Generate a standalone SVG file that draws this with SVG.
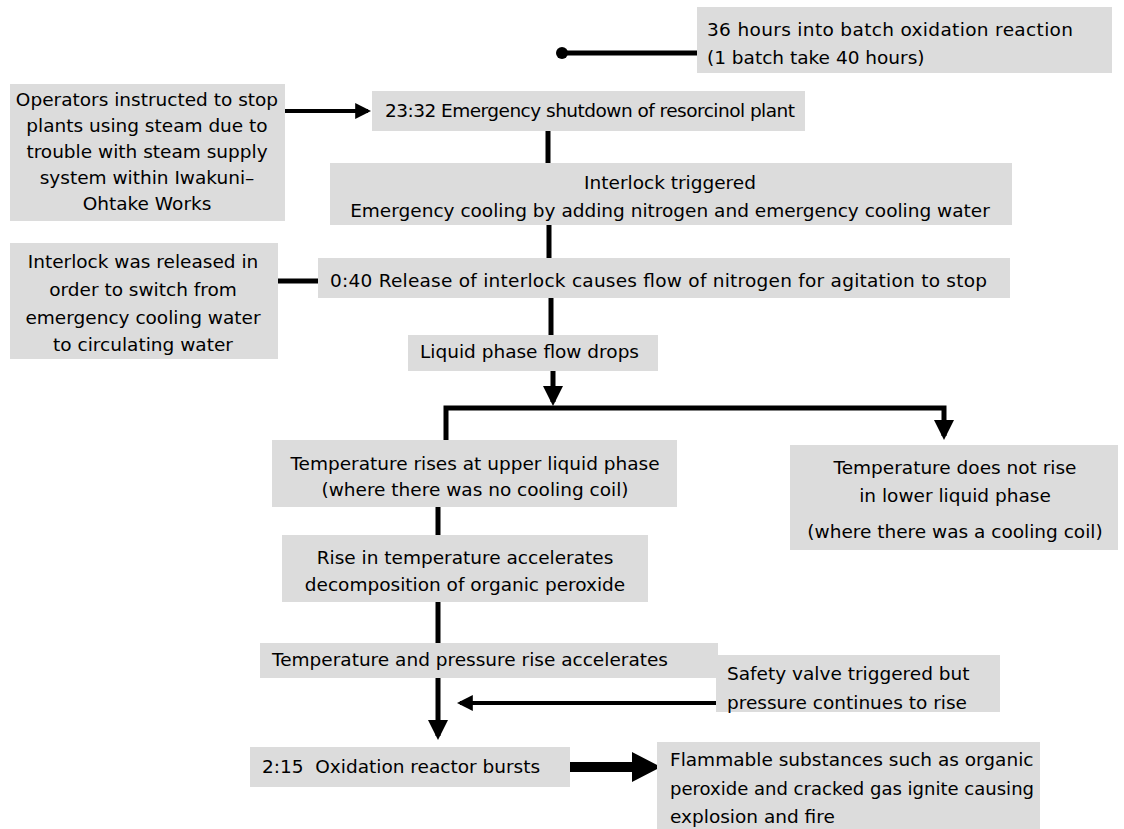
<svg xmlns="http://www.w3.org/2000/svg" width="1124" height="829" viewBox="0 0 1124 829">
<style>
.box{fill:#dcdcdc;stroke:none}
text{font-family:"DejaVu Sans","Liberation Sans",Arial,sans-serif;font-size:18.5px;fill:#000}
.c{text-anchor:middle}
.ln{stroke:#000;stroke-width:5;fill:none}
.th{stroke-width:4}
</style>
<defs>
<marker id="ah" markerWidth="4" markerHeight="4" refX="3.2" refY="2" orient="auto" markerUnits="strokeWidth"><path d="M0,0 L4,2 L0,4 Z" fill="#000"/></marker>
</defs>
<rect width="1124" height="829" fill="#fff"/>
<g id="connectors">
<circle cx="562" cy="53" r="6" fill="#000"/>
<line class="ln" x1="562" y1="53" x2="697" y2="53"/>
<line class="ln th" x1="285" y1="111" x2="368" y2="111" marker-end="url(#ah)"/>
<line class="ln" x1="548" y1="131" x2="548" y2="163"/>
<line class="ln" x1="549" y1="225" x2="549" y2="258"/>
<line class="ln" x1="278" y1="281" x2="318" y2="281"/>
<line class="ln" x1="551" y1="298" x2="551" y2="335"/>
<line class="ln" x1="553" y1="371" x2="553" y2="402" marker-end="url(#ah)"/>
<polyline class="ln" points="446,440 446,408 944,408 944,436" marker-end="url(#ah)"/>
<line class="ln" x1="438" y1="507" x2="438" y2="535"/>
<line class="ln" x1="438" y1="602" x2="438" y2="643"/>
<line class="ln" x1="438" y1="678" x2="438" y2="736" marker-end="url(#ah)"/>
<line class="ln th" x1="716" y1="703" x2="460" y2="703" marker-end="url(#ah)"/>
<polygon points="570,762 632,762 632,752 661,767 632,782 632,772 570,772" fill="#000"/>
</g>
<g id="n1"><rect class="box" x="697" y="7" width="415" height="66"/>
<text x="707" y="36" textLength="366" lengthAdjust="spacing">36 hours into batch oxidation reaction</text>
<text x="707" y="64">(1 batch take 40 hours)</text></g>
<g id="n2"><rect class="box" x="10" y="84" width="275" height="137"/>
<text class="c" x="147" y="106">Operators instructed to stop</text>
<text class="c" x="147" y="132">plants using steam due to</text>
<text class="c" x="147" y="158">trouble with steam supply</text>
<text class="c" x="147" y="184">system within Iwakuni–</text>
<text class="c" x="147" y="210">Ohtake Works</text></g>
<g id="n3"><rect class="box" x="372" y="91" width="433" height="40"/>
<text x="385" y="117" textLength="410" lengthAdjust="spacing">23:32 Emergency shutdown of resorcinol plant</text></g>
<g id="n4"><rect class="box" x="330" y="163" width="682" height="62"/>
<text class="c" x="670" y="189">Interlock triggered</text>
<text class="c" x="670" y="217">Emergency cooling by adding nitrogen and emergency cooling water</text></g>
<g id="n5"><rect class="box" x="10" y="243" width="268" height="116"/>
<text class="c" x="143" y="268">Interlock was released in</text>
<text class="c" x="143" y="296">order to switch from</text>
<text class="c" x="143" y="324">emergency cooling water</text>
<text class="c" x="143" y="351">to circulating water</text></g>
<g id="n6"><rect class="box" x="318" y="258" width="692" height="40"/>
<text x="330" y="287" textLength="657" lengthAdjust="spacing">0:40 Release of interlock causes flow of nitrogen for agitation to stop</text></g>
<g id="n7"><rect class="box" x="408" y="335" width="250" height="36"/>
<text x="420" y="358">Liquid phase flow drops</text></g>
<g id="n8"><rect class="box" x="272" y="440" width="405" height="67"/>
<text class="c" x="475" y="470">Temperature rises at upper liquid phase</text>
<text class="c" x="475" y="496">(where there was no cooling coil)</text></g>
<g id="n9"><rect class="box" x="790" y="445" width="328" height="105"/>
<text class="c" x="955" y="474">Temperature does not rise</text>
<text class="c" x="955" y="502">in lower liquid phase</text>
<text class="c" x="955" y="538">(where there was a cooling coil)</text></g>
<g id="n10"><rect class="box" x="282" y="535" width="366" height="67"/>
<text class="c" x="465" y="564">Rise in temperature accelerates</text>
<text class="c" x="465" y="591">decomposition of organic peroxide</text></g>
<g id="n11"><rect class="box" x="260" y="643" width="458" height="35"/>
<text x="272" y="666">Temperature and pressure rise accelerates</text></g>
<g id="n12"><rect class="box" x="716" y="655" width="284" height="57"/>
<text x="727" y="680">Safety valve triggered but</text>
<text x="727" y="709">pressure continues to rise</text></g>
<g id="n13"><rect class="box" x="250" y="747" width="320" height="40"/>
<text x="262" y="773" xml:space="preserve">2:15  Oxidation reactor bursts</text></g>
<g id="n14"><rect class="box" x="657" y="742" width="383" height="87"/>
<text x="670" y="766">Flammable substances such as organic</text>
<text x="670" y="795" textLength="364" lengthAdjust="spacingAndGlyphs">peroxide and cracked gas ignite causing</text>
<text x="670" y="823">explosion and fire</text></g>
</svg>
